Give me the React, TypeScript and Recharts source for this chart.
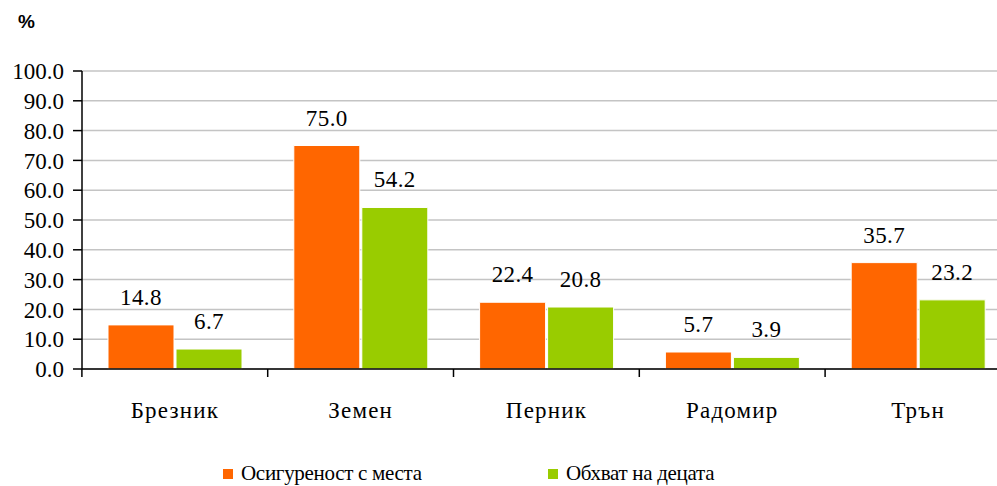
import { BarChart, Bar, XAxis, YAxis, CartesianGrid, LabelList } from 'recharts'

const towns = ['Брезник', 'Земен', 'Перник', 'Радомир', 'Трън']
const placesProvided = [14.8, 75.0, 22.4, 5.7, 35.7]
const childrenCoverage = [6.7, 54.2, 20.8, 3.9, 23.2]
const yTicks = [0, 10, 20, 30, 40, 50, 60, 70, 80, 90, 100]
const seriesNames = ['Осигуреност с места', 'Обхват на децата']
const seriesColors = ['#FF6600', '#99CC00']

const data = towns.map((t, i) => ({
  town: t,
  places: placesProvided[i],
  coverage: childrenCoverage[i],
}))

const SERIF = 'Liberation Serif'
const BAND = 186

// category label + boundary tick on the left side of each band
const TownTick = (props: any) => {
  const { x, y, payload } = props
  return (
    <g>
      <line x1={x - BAND / 2} x2={x - BAND / 2} y1={y - 8} y2={y} stroke="#000" strokeWidth={1.5} />
      {payload.index === towns.length - 1 && (
        <line x1={x + BAND / 2} x2={x + BAND / 2} y1={y - 8} y2={y} stroke="#000" strokeWidth={1.5} />
      )}
      <text x={x} y={y + 41} textAnchor="middle" fill="#000" style={{ fontFamily: SERIF, fontSize: 23, letterSpacing: 1.2 }}>
        {payload.value}
      </text>
    </g>
  )
}

export default function App() {
  return (
    <div style={{ position: 'relative', width: 997, height: 486, overflow: 'hidden', background: '#fff' }}>
      <style>{'body{margin:0} .chart text{font-family:"Liberation Serif",serif;font-size:23px}'}</style>
      <div
        style={{
          position: 'absolute',
          left: 18,
          top: 11,
          fontFamily: 'Liberation Sans',
          fontWeight: 'bold',
          fontSize: 19,
        }}
      >
        %
      </div>
      <div className="chart">
        <BarChart
          width={1020}
          height={486}
          data={data}
          margin={{ top: 71, right: 9, left: 0, bottom: 87 }}
          barCategoryGap={26}
          barGap={2}
        >
          <CartesianGrid vertical={false} stroke="#C4C4C4" strokeWidth={1.5} />
          <YAxis
            width={82}
            domain={[0, 100]}
            ticks={yTicks}
            interval={0}
            tickFormatter={(v: number) => v.toFixed(1)}
            tick={{ fill: '#000', fontSize: 23, fontFamily: SERIF }}
            tickSize={9}
            tickMargin={9}
            axisLine={{ stroke: '#000', strokeWidth: 1.5 }}
            tickLine={{ stroke: '#000', strokeWidth: 1.5 }}
          />
          <XAxis
            dataKey="town"
            height={30}
            tick={<TownTick />}
            tickLine={false}
            interval={0}
            axisLine={{ stroke: '#000', strokeWidth: 1.5 }}
          />
          <Bar dataKey="places" name={seriesNames[0]} fill={seriesColors[0]} stroke="#fff" strokeWidth={1} isAnimationActive={false}>
            <LabelList dataKey="places" position="top" offset={20} formatter={(v: any) => Number(v).toFixed(1)} fill="#000" style={{ letterSpacing: 0.4 }} />
          </Bar>
          <Bar dataKey="coverage" name={seriesNames[1]} fill={seriesColors[1]} stroke="#fff" strokeWidth={1} isAnimationActive={false}>
            <LabelList dataKey="coverage" position="top" offset={20} formatter={(v: any) => Number(v).toFixed(1)} fill="#000" style={{ letterSpacing: 0.4 }} />
          </Bar>
        </BarChart>
      </div>
      <div style={{ position: 'absolute', top: 461, left: 223, display: 'flex', fontFamily: SERIF, fontSize: 21, letterSpacing: -0.3 }}>
        {seriesNames.map((n, i) => (
          <div key={n} style={{ display: 'flex', alignItems: 'center', width: i === 0 ? 325 : 'auto' }}>
            <span style={{ width: 10, height: 10, background: seriesColors[i], marginRight: 8, display: 'inline-block' }} />
            <span>{n}</span>
          </div>
        ))}
      </div>
    </div>
  )
}
